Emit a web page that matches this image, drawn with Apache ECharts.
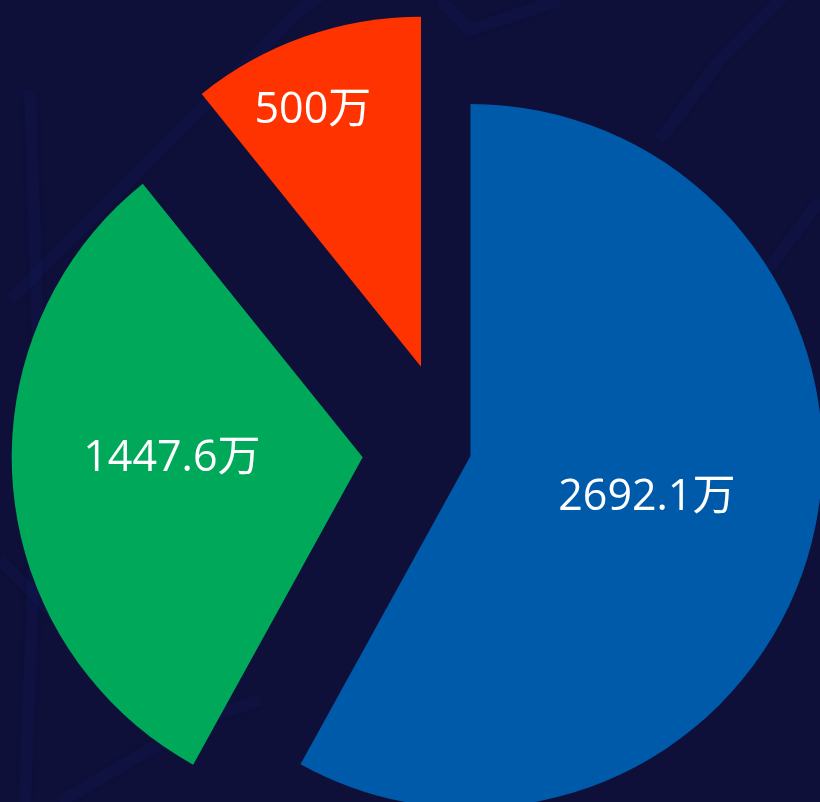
<!DOCTYPE html>
<html>
<head>
<meta charset="utf-8">
<script src="https://cdn.jsdelivr.net/npm/echarts@6/dist/echarts.min.js"></script>
<style>
html,body{margin:0;padding:0;background:#0f1039;}
#chart{width:820px;height:802px;}
</style>
</head>
<body>
<div id="chart"></div>
<script>
// ---- data ----
var names = ['A', 'B', 'C'];
var values = [2692.1, 1447.6, 500];
var unit = '万';

// ---- style (per slice) ----
var colors = ['#005aaa', '#00a95a', '#ff3300'];
var centers = [[470.5, 456], [362.7, 457.3], [421, 366.7]];
var radii = [352, 351, 350];
var labelShift = [[3, -3], [-13, -14], [-49, -88]];

var chart = echarts.init(document.getElementById('chart'), null, {renderer: 'canvas'});

var series = values.map(function (v, i) {
  return {
    type: 'pie',
    silent: true,
    animation: false,
    startAngle: 90,
    clockwise: true,
    center: centers[i],
    radius: radii[i],
    label: {
      show: true,
      position: 'inside',
      color: '#ffffff',
      fontSize: 43,
      fontFamily: 'Open Sans, Noto Sans CJK SC, sans-serif',
      formatter: function (p) { return p.value + unit; }
    },
    labelLine: {show: false},
    labelLayout: {dx: labelShift[i][0], dy: labelShift[i][1]},
    emphasis: {disabled: true},
    data: names.map(function (n, j) {
      return {
        name: n,
        value: values[j],
        itemStyle: {color: j === i ? colors[j] : 'rgba(0,0,0,0)'},
        label: {show: j === i}
      };
    })
  };
});

var bgLines = [
  [[10, 300], [120, 190], [300, 10], [330, -10]],
  [[30, 90], [40, 400], [25, 802]],
  [[660, 140], [720, 60], [790, -10]],
  [[820, 200], [760, 280]],
  [[60, 802], [200, 720], [260, 700]],
  [[440, 0], [470, 30], [560, 0]],
  [[0, 560], [60, 620]]
];

chart.setOption({
  backgroundColor: '#0f1039',
  graphic: bgLines.map(function (pts) {
    return {
      type: 'polyline',
      silent: true,
      z: -10,
      shape: {points: pts},
      style: {stroke: 'rgba(30,45,140,0.10)', lineWidth: 12, fill: null, shadowBlur: 14, shadowColor: 'rgba(30,45,140,0.15)'}
    };
  }),
  series: series
});
</script>
</body>
</html>
